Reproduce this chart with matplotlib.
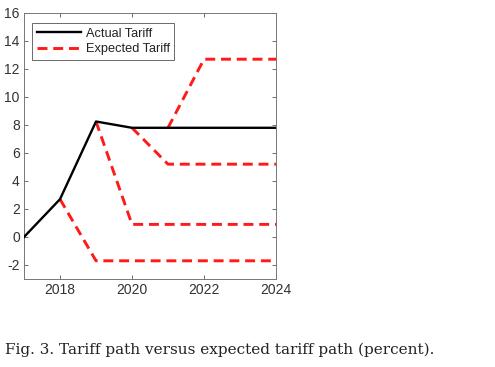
import matplotlib
matplotlib.use("Agg")
import matplotlib.pyplot as plt

plt.rcParams["axes.unicode_minus"] = False

years_actual = [2017, 2018, 2019, 2020, 2021, 2022, 2023, 2024]
actual_tariff = [0.0, 2.7, 8.25, 7.8, 7.8, 7.8, 7.8, 7.8]

exp_years_1 = [2018, 2019, 2020, 2021, 2022, 2023, 2024]
exp_vals_1 = [2.7, -1.7, -1.7, -1.7, -1.7, -1.7, -1.7]
exp_years_2 = [2019, 2020, 2021, 2022, 2023, 2024]
exp_vals_2 = [8.25, 0.9, 0.9, 0.9, 0.9, 0.9]
exp_years_3 = [2020, 2021, 2022, 2023, 2024]
exp_vals_3 = [7.8, 5.2, 5.2, 5.2, 5.2]
exp_years_4 = [2021, 2022, 2023, 2024]
exp_vals_4 = [7.8, 12.7, 12.7, 12.7]

x_ticks = [2018, 2020, 2022, 2024]
y_ticks = [-2, 0, 2, 4, 6, 8, 10, 12, 14, 16]
caption = "Fig. 3. Tariff path versus expected tariff path (percent)."

fig = plt.figure(figsize=(4.95, 3.67), dpi=100)
ax = fig.add_axes([24/495, 1-279/367, 252/495, 266/367])

red = "#ff1a1a"
dash = (0, (3.4, 2.0))
lw_red = 2.1
for xs, ys in [(exp_years_1, exp_vals_1), (exp_years_2, exp_vals_2),
               (exp_years_3, exp_vals_3), (exp_years_4, exp_vals_4)]:
    ax.plot(xs, ys, color=red, lw=lw_red, linestyle=dash, zorder=2)
ax.plot(years_actual, actual_tariff, color="black", lw=1.7, zorder=3,
        label="Actual Tariff")
ax.plot([], [], color=red, lw=lw_red, linestyle=dash, label="Expected Tariff")

ax.set_xlim(2017, 2024)
ax.set_ylim(-3, 16)
ax.set_xticks(x_ticks)
ax.set_yticks(y_ticks)
ax.tick_params(direction="in", top=True, right=True, length=3, width=0.6,
               labelsize=10, labelcolor="#333333", color="#555555", pad=3)
for lab in ax.get_xticklabels() + ax.get_yticklabels():
    lab.set_family("Liberation Sans")
for s in ax.spines.values():
    s.set_color("#777777")
    s.set_linewidth(0.7)

leg = ax.legend(loc="upper left", bbox_to_anchor=(0.032, 0.962), frameon=True,
                fancybox=False, edgecolor="#444444", handlelength=3.45,
                handletextpad=0.4, borderpad=0.35, labelspacing=0.3,
                borderaxespad=0.0,
                prop={"family": "Liberation Sans", "size": 9.2})
leg.get_frame().set_linewidth(0.7)
for t in leg.get_texts():
    t.set_color("#222222")

fig.text(5/495, 1-354/367, caption, family="DejaVu Serif", fontsize=11,
         color="#222222", va="baseline", ha="left")

fig.savefig("out.png", dpi=100)
